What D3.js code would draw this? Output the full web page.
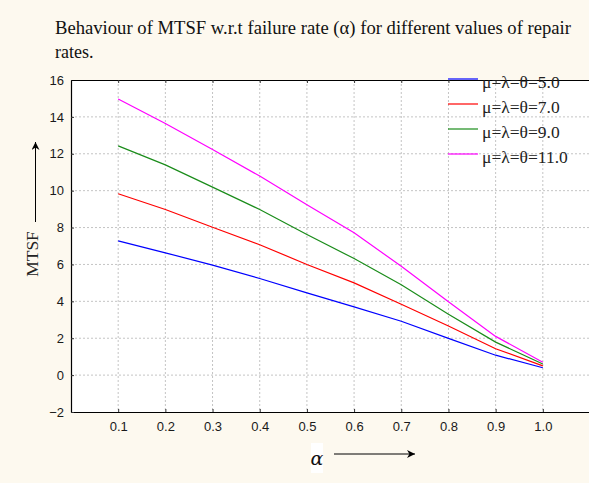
<!DOCTYPE html>
<html>
<head>
<meta charset="utf-8">
<script src="https://cdn.jsdelivr.net/npm/d3@7"></script>
<style>
  body { margin: 0; background: #fdf9ef; }
  svg { display: block; }
</style>
</head>
<body>
<div class="chart"></div>
<script>
const width = 589;
const height = 483;

const alpha = [0.1, 0.2, 0.3, 0.4, 0.5, 0.6, 0.7, 0.8, 0.9, 1.0];
const mtsf5 = [7.28, 6.63, 5.96, 5.24, 4.46, 3.7, 2.92, 1.99, 1.08, 0.4];
const mtsf7 = [9.83, 8.98, 8.02, 7.07, 6.0, 5.0, 3.84, 2.66, 1.43, 0.5];
const mtsf9 = [12.43, 11.4, 10.19, 8.98, 7.62, 6.32, 4.9, 3.3, 1.79, 0.6];
const mtsf11 = [14.97, 13.64, 12.23, 10.79, 9.24, 7.72, 5.9, 3.98, 2.1, 0.7];
const legendLabels = ['μ=λ=θ=5.0', 'μ=λ=θ=7.0', 'μ=λ=θ=9.0', 'μ=λ=θ=11.0'];
const colors = ['#0000ff', '#ff0000', '#1a8c1a', '#ff00ff'];
const yTicks = [-2, 0, 2, 4, 6, 8, 10, 12, 14, 16];

const series = [mtsf5, mtsf7, mtsf9, mtsf11];

const plotLeft = 71, plotRight = 590, plotTop = 80, plotBottom = 412;
const serif = '"Liberation Serif", "Times New Roman", serif';

const svg = d3
  .select('.chart')
  .append('svg')
  .attr('width', width)
  .attr('height', height);

const x = d3.scaleLinear().domain([0, 1.1]).range([plotLeft, plotRight]);
const y = d3.scaleLinear().domain([-2, 16]).range([plotBottom, plotTop]);

// plot background
svg.append('rect')
  .attr('x', plotLeft).attr('y', plotTop)
  .attr('width', plotRight - plotLeft).attr('height', plotBottom - plotTop)
  .attr('fill', '#ffffff');

// grid
svg.append('g')
  .selectAll('line')
  .data(alpha)
  .enter().append('line')
  .attr('x1', d => x(d)).attr('x2', d => x(d))
  .attr('y1', plotTop).attr('y2', plotBottom)
  .attr('stroke', '#c4c4c4').attr('stroke-dasharray', '2,2');

svg.append('g')
  .selectAll('line')
  .data(yTicks.slice(1, -1))
  .enter().append('line')
  .attr('x1', plotLeft).attr('x2', plotRight)
  .attr('y1', d => y(d)).attr('y2', d => y(d))
  .attr('stroke', '#c4c4c4').attr('stroke-dasharray', '2,2');

// axes
const xAxis = d3.axisBottom(x).tickValues(alpha).tickFormat(d3.format('.1f')).tickSizeInner(-3).tickSizeOuter(0).tickPadding(10);
const yAxis = d3.axisLeft(y).tickValues(yTicks).tickFormat(d3.format('d')).tickSizeInner(-3).tickSizeOuter(0).tickPadding(7);
const xTop = d3.axisTop(x).tickValues(alpha).tickFormat('').tickSizeInner(-3).tickSizeOuter(0);

function styleAxis(g) {
  g.select('.domain').attr('stroke', '#000').attr('stroke-width', 1.2);
  g.selectAll('.tick line').attr('stroke', '#333');
  g.selectAll('.tick text')
    .attr('fill', '#1a1a1a')
    .style('font-family', '"Liberation Sans", Arial, sans-serif')
    .style('font-size', '13px');
}

svg.append('g').attr('transform', `translate(0,${plotBottom})`).call(xAxis).call(styleAxis);
svg.append('g').attr('transform', `translate(${plotLeft},0)`).call(yAxis).call(styleAxis);
svg.append('g').attr('transform', `translate(0,${plotTop})`).call(xTop).call(styleAxis);

// lines
const line = d3.line()
  .x((d, i) => x(alpha[i]))
  .y(d => y(d));

svg.append('g')
  .selectAll('path')
  .data(series)
  .enter().append('path')
  .attr('d', line)
  .attr('fill', 'none')
  .attr('stroke', (d, i) => colors[i])
  .attr('stroke-width', 1.2);

// legend
const legend = svg.append('g').attr('transform', 'translate(448,79)');
legendLabels.forEach((label, i) => {
  const row = legend.append('g').attr('transform', `translate(0,${i * 25})`);
  row.append('line')
    .attr('x1', 0).attr('x2', 30)
    .attr('stroke', colors[i]).attr('stroke-width', 1.2);
  row.append('text')
    .attr('x', 34).attr('y', 8.5)
    .text(label)
    .attr('fill', '#222')
    .style('font-family', serif)
    .style('font-size', '17.5px');
});

// title
const title = svg.append('g')
  .style('font-family', serif)
  .style('font-size', '18px')
  .attr('fill', '#111');
title.append('text').attr('x', 55).attr('y', 33.5)
  .attr('textLength', 516).attr('lengthAdjust', 'spacingAndGlyphs')
  .text('Behaviour of MTSF  w.r.t  failure rate (α) for different values of repair');
title.append('text').attr('x', 55).attr('y', 57.5).text('rates.');

// y label with arrow
svg.append('defs').append('marker')
  .attr('id', 'arrow')
  .attr('viewBox', '0 0 10 10')
  .attr('refX', 10).attr('refY', 5)
  .attr('markerWidth', 12).attr('markerHeight', 8)
  .attr('markerUnits', 'userSpaceOnUse')
  .attr('orient', 'auto')
  .append('path')
  .attr('d', 'M0,0 L10,5 L0,10 L3,5 Z')
  .attr('fill', '#000');

svg.append('text')
  .attr('transform', 'translate(38,254) rotate(-90)')
  .attr('text-anchor', 'middle')
  .style('font-family', serif)
  .style('font-size', '17.5px')
  .attr('fill', '#222')
  .text('MTSF');

svg.append('line')
  .attr('x1', 35.5).attr('x2', 35.5)
  .attr('y1', 222).attr('y2', 142)
  .attr('stroke', '#000').attr('stroke-width', 1)
  .attr('marker-end', 'url(#arrow)');

// x label with arrow
svg.append('rect')
  .attr('x', 311).attr('y', 443).attr('width', 12).attr('height', 30)
  .attr('fill', '#ffffff');
svg.append('text')
  .attr('x', 317).attr('y', 465)
  .attr('text-anchor', 'middle')
  .style('font-family', '"DejaVu Serif", serif')
  .style('font-style', 'italic')
  .style('font-size', '19px')
  .attr('fill', '#111')
  .text('α');

svg.append('line')
  .attr('x1', 334).attr('x2', 415)
  .attr('y1', 454).attr('y2', 454)
  .attr('stroke', '#000').attr('stroke-width', 1)
  .attr('marker-end', 'url(#arrow)');
</script>
</body>
</html>
